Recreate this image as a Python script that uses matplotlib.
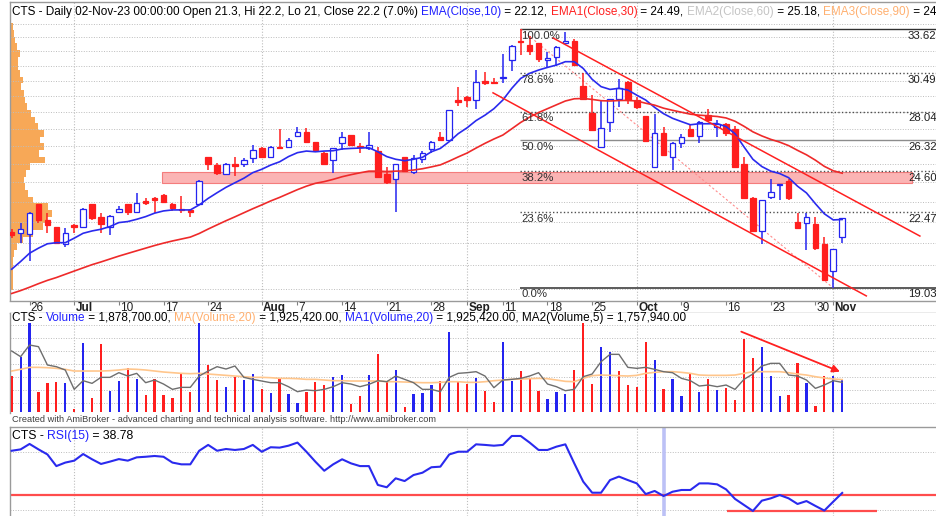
import numpy as np
import matplotlib
matplotlib.use("Agg")
import matplotlib.pyplot as plt
from matplotlib.font_manager import FontProperties
from matplotlib import transforms

W, H, DPI = 937, 516, 100
plt.rcParams['font.family'] = ['Liberation Sans', 'DejaVu Sans']

# ---------------- data ----------------
opens = [21.53, 21.46, 21.43, 22.88, 22.10, 21.75, 20.97, 21.86, 21.78, 22.88,
         22.23, 21.78, 22.48, 22.88, 22.48, 23.04, 23.17, 23.34, 22.88, 22.63,
         22.59, 22.89, 25.36, 24.93, 24.45, 24.97, 24.99, 25.30, 25.90, 25.40,
         25.96, 25.92, 26.59, 26.83, 26.21, 25.62, 25.21, 26.16, 26.61, 26.00,
         25.86, 25.71, 24.45, 24.16, 25.36, 24.57, 25.25, 25.81, 26.52, 26.34,
         28.76, 28.97, 28.76, 29.97, 29.95, 30.16, 31.41, 32.78, 32.45, 32.58,
         31.41, 31.64, 32.63, 32.78, 29.67, 27.98, 25.96, 27.43, 28.85, 29.95,
         28.76, 27.77, 24.84, 26.78, 25.40, 26.16, 26.97, 26.59, 27.82, 27.13,
         27.31, 26.97, 24.97, 23.17, 21.58, 23.26, 23.85, 24.09, 22.02, 21.97,
         21.91, 20.97, 19.77, 21.30]
highs = [21.65, 21.94, 22.50, 22.90, 22.43, 21.78, 21.70, 21.88, 22.68, 22.90,
         22.43, 22.33, 22.79, 22.90, 23.46, 23.17, 23.26, 23.39, 22.93, 23.30,
         22.64, 24.12, 25.38, 25.05, 25.05, 25.36, 25.34, 26.05, 25.96, 25.98,
         26.97, 26.47, 27.13, 27.07, 26.23, 25.65, 25.88, 26.80, 26.63, 26.16,
         26.83, 25.96, 24.84, 25.00, 25.40, 25.47, 25.71, 26.30, 26.83, 28.14,
         29.61, 29.00, 30.72, 30.61, 30.16, 31.80, 32.45, 33.62, 33.11, 32.63,
         31.98, 32.38, 33.42, 32.87, 30.50, 29.07, 28.76, 28.81, 30.10, 29.97,
         28.93, 27.77, 27.87, 27.13, 26.20, 26.71, 27.31, 27.45, 28.18, 27.53,
         27.34, 27.17, 25.40, 23.22, 23.10, 24.16, 23.93, 24.16, 22.46, 22.43,
         22.23, 21.30, 20.75, 22.20]
lows = [21.23, 21.02, 20.21, 21.97, 21.49, 20.99, 20.84, 21.49, 21.70, 22.10,
        21.49, 21.37, 22.48, 22.34, 22.46, 22.83, 22.46, 22.95, 22.56, 22.43,
        22.26, 22.83, 24.66, 24.40, 24.45, 24.36, 24.84, 25.03, 25.30, 25.34,
        25.81, 25.86, 26.49, 26.21, 25.67, 24.97, 24.49, 25.77, 26.00, 25.62,
        25.77, 24.22, 23.92, 22.51, 24.60, 24.45, 25.03, 25.62, 26.29, 26.30,
        28.38, 28.30, 28.22, 29.72, 29.83, 29.83, 30.68, 31.73, 31.73, 31.26,
        30.85, 30.99, 32.53, 31.04, 28.79, 26.90, 25.96, 26.83, 28.33, 28.54,
        28.22, 26.28, 24.84, 25.45, 24.66, 25.86, 26.52, 26.18, 27.43, 26.52,
        26.59, 24.82, 23.15, 21.56, 20.97, 23.13, 23.09, 23.09, 21.68, 20.69,
        20.69, 19.35, 19.03, 21.00]
closes = [21.40, 21.65, 22.46, 22.10, 21.83, 21.02, 21.46, 21.75, 22.66, 22.18,
          21.91, 22.31, 22.63, 22.48, 22.93, 22.96, 23.09, 23.00, 22.68, 22.58,
          22.51, 24.09, 24.97, 24.52, 24.99, 24.90, 25.21, 25.77, 25.36, 25.96,
          25.90, 26.34, 26.80, 26.21, 25.77, 24.99, 25.86, 26.49, 26.05, 25.92,
          26.05, 24.27, 24.01, 24.99, 24.62, 25.30, 25.59, 26.25, 26.34, 28.14,
          28.66, 28.76, 29.95, 29.89, 29.85, 30.23, 32.38, 32.66, 32.06, 31.45,
          31.55, 32.33, 32.78, 31.06, 28.85, 26.93, 27.03, 28.81, 29.52, 28.76,
          28.30, 26.30, 26.78, 25.47, 26.18, 26.52, 26.59, 27.43, 27.53, 27.31,
          26.75, 24.84, 23.17, 21.58, 23.09, 23.51, 23.92, 23.17, 21.70, 22.23,
          20.77, 19.37, 20.72, 22.20]
ema10 = [19.83, 20.17, 20.54, 20.77, 20.97, 21.02, 21.02, 21.23, 21.46, 21.57,
         21.65, 21.78, 21.97, 22.02, 22.13, 22.26, 22.43, 22.54, 22.59, 22.59,
         22.59, 22.84, 23.17, 23.46, 23.74, 23.98, 24.22, 24.52, 24.70, 24.93,
         25.11, 25.40, 25.62, 25.71, 25.67, 25.71, 25.73, 25.83, 25.86, 25.88,
         25.90, 25.67, 25.40, 25.25, 25.17, 25.25, 25.36, 25.67, 25.86, 26.25,
         26.71, 27.06, 27.49, 27.82, 28.22, 28.76, 29.51, 30.16, 30.50, 30.72,
         30.90, 31.06, 31.29, 31.29, 30.83, 30.10, 29.62, 29.44, 29.51, 29.40,
         29.07, 28.76, 28.30, 27.91, 27.63, 27.43, 27.24, 27.30, 27.30, 27.31,
         27.13, 26.71, 25.95, 25.25, 24.85, 24.60, 24.47, 24.25, 23.80, 23.45,
         22.90, 22.40, 22.10, 22.12]
ema30 = [18.80, 18.92, 19.06, 19.21, 19.35, 19.47, 19.61, 19.75, 19.89, 20.03,
         20.15, 20.28, 20.41, 20.53, 20.65, 20.77, 20.89, 21.00, 21.10, 21.19,
         21.28, 21.45, 21.66, 21.86, 22.06, 22.25, 22.45, 22.65, 22.84, 23.04,
         23.22, 23.42, 23.62, 23.80, 23.95, 24.04, 24.16, 24.30, 24.41, 24.51,
         24.60, 24.60, 24.58, 24.60, 24.61, 24.66, 24.73, 24.83, 24.94, 25.15,
         25.38, 25.60, 25.88, 26.15, 26.40, 26.63, 27.00, 27.38, 27.70, 27.98,
         28.22, 28.46, 28.70, 28.84, 28.86, 28.80, 28.72, 28.70, 28.73, 28.74,
         28.70, 28.56, 28.44, 28.25, 28.12, 28.00, 27.88, 27.82, 27.78, 27.74,
         27.65, 27.45, 27.15, 26.82, 26.58, 26.38, 26.22, 26.02, 25.75, 25.50,
         25.20, 24.86, 24.62, 24.49]
volume_m = [2.14, 3.30, 5.30, 1.20, 1.70, 1.80, 1.70, 0.14, 4.10, 0.84,
            4.04, 1.24, 1.84, 2.60, 1.94, 1.00, 1.96, 1.00, 0.84, 2.34,
            1.20, 5.30, 2.80, 1.90, 1.46, 2.08, 1.90, 2.26, 1.36, 1.10,
            1.96, 1.04, 0.54, 1.16, 1.76, 1.60, 2.06, 2.20, 0.44, 0.94,
            2.20, 3.44, 1.86, 2.50, 0.26, 1.06, 1.10, 1.60, 1.84, 4.76,
            1.80, 1.66, 2.00, 1.24, 0.56, 4.20, 1.86, 2.44, 2.04, 1.24,
            0.76, 1.20, 1.04, 2.50, 5.30, 1.66, 3.90, 3.60, 2.46, 1.60,
            1.46, 4.20, 3.10, 1.36, 1.96, 0.94, 2.30, 1.20, 1.94, 1.30,
            1.40, 0.70, 4.34, 3.20, 3.90, 2.14, 0.94, 1.00, 2.90, 1.74,
            0.36, 2.14, 2.16, 1.8787]
volume_colors = ("RBBRRRBRBR" "RBBRBRRRRR" "RBRRBRBBRB" "RBBRRRBBRR" "BRRBRBBBRB"
                 "RRBRRBBRRR" "BBBRRRBBRR" "RRBRBBRBRB" "RRRRBBBRRB" "RRBB")
vol_ma20 = [2.44, 2.54, 2.66, 2.66, 2.64, 2.60, 2.54, 2.44, 2.44, 2.44,
            2.44, 2.46, 2.50, 2.56, 2.54, 2.50, 2.44, 2.38, 2.34, 2.30,
            2.28, 2.30, 2.26, 2.22, 2.18, 2.14, 2.10, 2.06, 2.06, 2.04,
            2.00, 2.00, 1.98, 1.94, 1.94, 1.90, 1.86, 1.86, 1.84, 1.84,
            1.84, 1.84, 1.80, 1.80, 1.78, 1.76, 1.74, 1.74, 1.76, 1.80,
            1.80, 1.76, 1.76, 1.80, 1.86, 1.90, 1.94, 1.96, 1.98, 2.00,
            1.98, 1.90, 1.82, 1.80, 2.00, 2.16, 2.20, 2.18, 2.16, 2.14,
            2.18, 2.30, 2.36, 2.40, 2.40, 2.36, 2.30, 2.20, 2.18, 2.18,
            2.18, 2.20, 2.30, 2.40, 2.40, 2.40, 2.40, 2.34, 2.26, 2.20,
            2.10, 2.02, 1.96, 1.925]
vol_ma5 = [3.64, 3.30, 4.00, 3.90, 2.80, 2.70, 2.50, 1.34, 1.86, 1.70,
           2.06, 2.06, 2.34, 2.14, 2.30, 1.74, 1.90, 1.66, 1.34, 1.46,
           1.46, 2.14, 2.44, 2.70, 2.56, 2.74, 2.06, 1.94, 1.84, 1.74,
           1.74, 1.50, 1.20, 1.30, 1.26, 1.34, 1.50, 1.74, 1.66, 1.50,
           1.64, 1.86, 1.80, 2.14, 1.94, 1.74, 1.34, 1.34, 1.20, 2.06,
           2.30, 2.34, 2.40, 2.14, 1.44, 1.90, 1.94, 2.00, 2.14, 2.34,
           1.66, 1.50, 1.26, 1.34, 2.10, 2.26, 3.00, 3.44, 3.44, 2.66,
           2.60, 2.66, 2.54, 2.40, 2.34, 2.00, 1.86, 1.54, 1.60, 1.50,
           1.60, 1.34, 1.94, 2.26, 2.74, 2.90, 2.90, 2.20, 2.14, 1.90,
           1.40, 1.60, 1.86, 1.758]
rsi15 = [60.5, 61.2, 64.0, 61.2, 58.6, 52.6, 54.4, 55.4, 58.8, 56.1,
         53.7, 54.9, 56.2, 55.4, 57.1, 57.4, 57.8, 57.4, 54.4, 53.5,
         53.5, 60.5, 63.5, 60.5, 61.4, 60.9, 61.4, 63.5, 60.0, 62.3,
         62.1, 63.1, 64.7, 60.0, 54.9, 50.2, 53.5, 56.1, 54.0, 52.6,
         52.6, 42.9, 41.7, 46.3, 44.9, 48.0, 49.2, 52.0, 52.3, 58.6,
         60.0, 60.0, 63.8, 63.5, 63.1, 63.5, 68.1, 68.1, 64.7, 60.9,
         60.9, 62.6, 63.8, 54.0, 44.6, 38.9, 38.9, 45.4, 47.2, 45.4,
         43.7, 38.2, 39.8, 37.2, 39.4, 40.3, 40.3, 43.7, 43.7, 43.2,
         40.6, 35.7, 32.6, 29.5, 34.8, 36.0, 37.7, 36.0, 33.1, 34.6,
         32.1, 29.7, 34.3, 38.78]
profile_vol = [1.7, 3, 4, 5.7, 9, 7.3, 7.3, 9, 12.3, 9.7, 13, 14, 15.7, 19.7, 24,
               27.3, 33, 29, 33, 28.3, 34, 19, 15, 13, 14, 17.3, 22.3, 37.3, 40.7,
               36.3, 32.3, 22.3, 12.3, 5.7, 3, 2.3, 2.3, 1.7, 1.7, 1.7]
date_ticks = [2, 7, 12, 17, 22, 28, 32, 37, 42, 47, 51, 55, 60, 65, 70, 75, 80, 85, 90, 92]
date_labels = ['26', 'Jul', '10', '17', '24', 'Aug', '7', '14', '21', '28',
               'Sep', '11', '18', '25', 'Oct', '9', '16', '23', '30', 'Nov']
month_idx = [7, 28, 51, 70, 92]
fib_pct = ['100.0%', '78.6%', '61.8%', '50.0%', '38.2%', '23.6%', '0.0%']
fib_price = [33.62, 30.49, 28.04, 26.32, 24.60, 22.47, 19.03]

# ---------------- styling ----------------
BLUE = '#2424F0'
RED = '#FF1E1E'
GRID = '#BDBDBD'
FRAME = '#9A9A9A'
DOT = (0, (1, 1.6))
PXU = 8.93                      # pixels per bar
X0 = -0.19
X1 = X0 + 927 / PXU
N = len(closes)
xs = np.arange(N)

fig = plt.figure(figsize=(W / DPI, H / DPI), dpi=DPI)
fig.patch.set_facecolor('white')


def px_axes(left, top, right, bottom):
    a = fig.add_axes([left / W, 1 - bottom / H, (right - left) / W, (bottom - top) / H])
    a.set_xlim(X0, X1)
    a.set_xticks([])
    a.set_yticks([])
    for s in a.spines.values():
        s.set_visible(False)
    return a


def frame(a, sides):
    for s in sides:
        a.spines[s].set_visible(True)
        a.spines[s].set_color(FRAME)
        a.spines[s].set_linewidth(1.0)


# ---------------- price panel ----------------
ax = px_axes(10, 2, 937, 301)
ax.set_yscale('log')
ax.set_ylim(18.492, 35.676)
ax.yaxis.set_major_locator(matplotlib.ticker.NullLocator())
ax.yaxis.set_minor_locator(matplotlib.ticker.NullLocator())
frame(ax, ['left', 'top'])

for p in range(19, 35):
    ax.axhline(p, color=GRID, lw=0.7, ls=DOT, zorder=1)
for m in month_idx:
    ax.axvline(m, color=GRID, lw=0.8, ls=DOT, zorder=1)

# volume profile
edges = np.geomspace(34.04, 18.95, len(profile_vol) + 1)
ax.barh(edges[1:], np.array(profile_vol) / PXU, height=edges[:-1] - edges[1:],
        left=X0 + 1.0 / PXU, align='edge', color='#F7A857', lw=0, zorder=0.8)

# resistance band
ax.add_patch(matplotlib.patches.Rectangle((16.8, 23.96), 100.8 - 16.8, 24.58 - 23.96,
                                          facecolor='#FBB4B4', edgecolor='#F47C7C',
                                          lw=0.8, zorder=1.5))

# fibonacci levels
fib_x0 = 56.9
fib_styles = [('-', '#303030', 1.0), (DOT, '#505050', 1.0), (DOT, '#505050', 1.0),
              ('-', '#8C8C8C', 1.0), (DOT, '#505050', 1.0), (DOT, '#505050', 1.0),
              ('-', '#404040', 1.2)]
off = transforms.offset_copy(ax.transData, fig=fig, x=0, y=-1.5, units='dots')
for lv, pct, (ls, col, lw) in zip(fib_price, fib_pct, fib_styles):
    ax.hlines(lv, fib_x0, X1, colors=col, linestyles=ls, lw=lw, zorder=2)
    ax.text(fib_x0 + 0.15, lv, pct, transform=off, ha='left', va='top',
            fontsize=8.2, color='#303030', zorder=7)
    ax.text(X1 - 0.05, lv, f'{lv:.2f}', transform=off, ha='right', va='top',
            fontsize=8.2, color='#202020', zorder=7)

# fib trend and channels
ax.plot([57, 92], [33.62, 19.03], color='#FF8C8C', lw=0.8, ls=(0, (2, 2)), zorder=2.5)
ax.plot([60.6, 101.7], [32.97, 21.33], color='#FF2020', lw=1.1, zorder=6)
ax.plot([53.9, 95.7], [29.22, 18.70], color='#FF2020', lw=1.1, zorder=6)

# candles
O, Hh, L, C = map(np.array, (opens, highs, lows, closes))
up = C >= O
ccol = np.where(up, BLUE, RED)
ax.vlines(xs, L, Hh, colors=ccol, lw=1.1, zorder=3)
body_lo = np.minimum(O, C)
body_h = np.maximum(np.abs(C - O), 0.03)
ax.bar(xs, body_h, bottom=body_lo, width=0.62,
       color=np.where(up, 'white', RED), edgecolor=ccol, lw=0.9, zorder=4)

ax.plot(xs, ema10, color='#2A2AEE', lw=1.2, zorder=5)
ax.plot(xs, ema30, color='#EE2A2A', lw=1.2, zorder=5)

# ---------------- date strip ----------------
ad = px_axes(10, 301, 937, 313)
ad.set_ylim(0, 1)
frame(ad, ['top', 'bottom'])
for t, lab in zip(date_ticks, date_labels):
    bold = lab.isalpha()
    ad.vlines(t, 0.7, 1.0, colors='#808080', lw=0.8)
    ad.text(t + 0.15, 0.45, lab, ha='left', va='center', fontsize=8.5,
            fontweight='bold' if bold else 'normal', color='#202020')

# ---------------- volume panel ----------------
av = px_axes(10, 313, 937, 413)
av.set_ylim(-0.078, 5.92)
frame(av, ['left'])
for g in [0.5, 1.28, 2.06, 2.84, 3.62, 4.40, 5.18]:
    av.axhline(g, color=GRID, lw=0.7, ls=DOT, zorder=1)
for m in month_idx:
    av.axvline(m, color=GRID, lw=0.8, ls=DOT, zorder=1)
vcols = [BLUE if c == 'B' else RED for c in volume_colors]
av.bar(xs, volume_m, width=0.25, color=vcols, lw=0, zorder=3)
av.plot(xs, vol_ma20, color='#FFC68C', lw=1.2, zorder=4)
av.plot(xs, vol_ma5, color='#6E6E6E', lw=1.0, zorder=5)
av.annotate('', xy=(92.75, 2.40), xytext=(81.7, 4.80),
            arrowprops=dict(arrowstyle='-|>', color='#FF2020', lw=1.3,
                            mutation_scale=11, shrinkA=0, shrinkB=0), zorder=6)

# ---------------- RSI panel ----------------
ar = px_axes(10, 427, 937, 516)
ar.set_ylim(26.91, 72.72)
frame(ar, ['left', 'top'])
for g in [60, 30]:
    ar.axhline(g, color=GRID, lw=0.7, ls=DOT, zorder=1)
for m in month_idx:
    ar.axvline(m, color=GRID, lw=0.8, ls=DOT, zorder=1)
ar.axvline(73, color='#BCC1F6', lw=2.6, zorder=1.5)
ar.axhline(37.7, color='#FF4C4C', lw=1.6, zorder=2)
ar.hlines(29.6, 80.1, 96.9, colors='#FF4C4C', lw=1.6, zorder=2)
ar.plot(xs, rsi15, color='#2A2AEE', lw=1.5, zorder=3)

# ---------------- titles ----------------
renderer = fig.canvas.get_renderer()


def rich(x_px, y_px, parts, size):
    fp = FontProperties(family=['Liberation Sans'], size=size)
    base = renderer.get_text_width_height_descent('||', fp, ismath=False)[0]
    x = x_px
    for s, c in parts:
        fig.text(x / W, 1 - y_px / H, s, color=c, fontproperties=fp, ha='left', va='center')
        w = renderer.get_text_width_height_descent('|' + s + '|', fp, ismath=False)[0] - base
        x += w


TS = 8.5
rich(12, 12, [("CTS - Daily 02-Nov-23 00:00:00 Open 21.3, Hi 22.2, Lo 21, Close 22.2 (7.0%) ", 'black'),
              ("EMA(Close,10)", '#2020FF'), (" = 22.12, ", 'black'),
              ("EMA1(Close,30)", '#FF2020'), (" = 24.49, ", 'black'),
              ("EMA2(Close,60)", '#C4C4C4'), (" = 25.18, ", 'black'),
              ("EMA3(Close,90)", '#FFB070'), (" = 24", 'black')], TS)
rich(12, 318, [("CTS - ", 'black'), ("Volume", '#2020FF'), (" = 1,878,700.00, ", 'black'),
               ("MA(Volume,20)", '#FFB070'), (" = 1,925,420.00, ", 'black'),
               ("MA1(Volume,20)", '#2020FF'),
               (" = 1,925,420.00, MA2(Volume,5) = 1,757,940.00", 'black')], TS)
rich(12, 436, [("CTS - ", 'black'), ("RSI(15)", '#2020FF'), (" = 38.78", 'black')], TS + 0.3)
fig.text(12 / W, 1 - 419 / H,
         "Created with AmiBroker - advanced charting and technical analysis software. http://www.amibroker.com",
         fontsize=6.65, color='#404040', ha='left', va='center')

fig.savefig('out.png', dpi=DPI)
